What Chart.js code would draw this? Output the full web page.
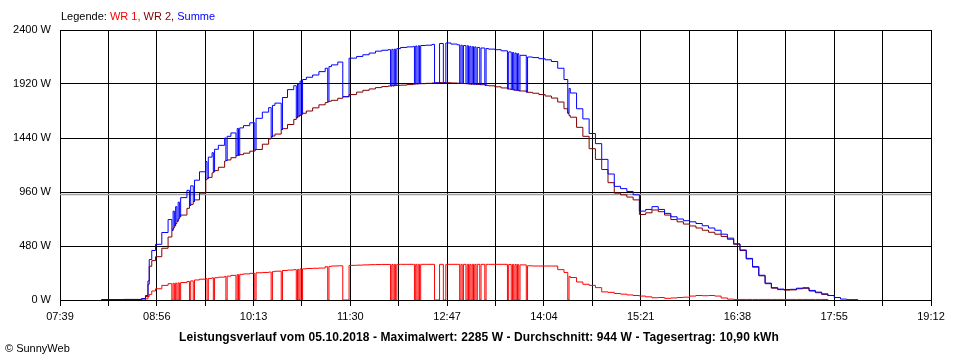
<!DOCTYPE html>
<html>
<head>
<meta charset="utf-8">
<script src="https://cdn.jsdelivr.net/npm/chart.js@4.4.1/dist/chart.umd.min.js"></script>
<style>
    body { margin: 0; background: #fff; }
    #wrap { position: relative; width: 960px; height: 360px; font-family: 'Liberation Sans', Arial, sans-serif; font-size: 11px; color: #000; }
    #chart { position: absolute; left: 0; top: 0; }
    #legende { position: absolute; left: 61px; top: 10px; white-space: nowrap; }
    #titel { position: absolute; left: 0; top: 330px; width: 958px; text-align: center; font-weight: bold; font-size: 12px; letter-spacing: 0.1px; white-space: nowrap; }
    #copy { position: absolute; left: 5px; top: 342px; }
</style>
</head>
<body>
<div id="wrap">
    <canvas id="chart" width="960" height="360"></canvas>
    <div id="legende">Legende: <span style="color:#ff0000">WR 1,</span> <span style="color:#800000">WR 2,</span> <span style="color:#0000ff">Summe</span></div>
    <div id="titel">Leistungsverlauf vom 05.10.2018 - Maximalwert: 2285 W - Durchschnitt: 944 W - Tagesertrag: 10,90 kWh</div>
    <div id="copy">&copy; SunnyWeb</div>
</div>
<script>
// Achsen
const xLabels = ['07:39', '08:56', '10:13', '11:30', '12:47', '14:04', '15:21', '16:38', '17:55', '19:12'];
const yTicks = [0, 480, 960, 1440, 1920, 2400];
const durchschnitt = 944;

// Messwerte (W)
const zeit = [
    '08:12','08:30','08:44','08:47','08:49','08:50','08:52','08:55','09:00','09:05',
    '09:08','09:09','09:10','09:11','09:12','09:13','09:14','09:15','09:20','09:22',
    '09:23','09:25','09:26','09:30','09:35','09:36','09:37','09:40','09:41','09:42',
    '09:45','09:50','09:51','09:52','09:55','09:59','10:00','10:01','10:02','10:05',
    '10:10','10:14','10:15','10:20','10:25','10:27','10:28','10:30','10:35','10:36',
    '10:40','10:45','10:47','10:48','10:49','10:50','10:51','10:52','10:55','11:00',
    '11:05','11:10','11:12','11:13','11:15','11:20','11:24','11:29','11:35','11:40',
    '11:45','11:50','11:55','12:00','12:02','12:03','12:04','12:05','12:06','12:07',
    '12:10','12:15','12:20','12:21','12:22','12:23','12:24','12:25','12:26','12:30',
    '12:35','12:37','12:41','12:44','12:46','12:50','12:55','12:57','12:58','12:59',
    '13:00','13:02','13:03','13:04','13:05','13:06','13:07','13:08','13:09','13:10',
    '13:11','13:13','13:14','13:17','13:18','13:20','13:25','13:30','13:35','13:36',
    '13:38','13:39','13:40','13:41','13:42','13:43','13:44','13:45','13:50','13:51',
    '13:55','14:00','14:05','14:10','14:15','14:20','14:23','14:24','14:25','14:30',
    '14:35','14:40','14:45','14:50','14:55','15:00','15:05','15:10','15:15','15:20',
    '15:25','15:30','15:35','15:40','15:45','15:50','15:55','16:00','16:05','16:10',
    '16:15','16:20','16:25','16:30','16:35','16:40','16:45','16:50','16:55','17:00',
    '17:05','17:10','17:15','17:20','17:25','17:30','17:35','17:40','17:45','17:50',
    '17:55','18:00','18:05','18:14'
];
const wr1 = [
    0,0,0,10,30,50,80,100,130,145,
    0,148,0,150,0,152,0,155,165,0,
    170,0,178,185,190,0,192,197,0,198,
    203,210,0,212,219,0,226,0,228,232,
    237,0,242,245,248,0,252,256,0,262,
    266,270,0,272,0,276,0,277,280,282,
    284,296,0,299,302,304,0,308,310,312,
    314,315,316,316,0,316,0,316,0,317,
    317,317,317,0,317,0,317,0,317,317,
    317,0,317,0,317,317,317,0,317,0,
    317,0,317,0,317,0,317,0,317,0,
    317,0,317,0,317,317,317,317,0,316,
    0,316,0,316,0,316,0,312,0,304,
    302,302,302,302,270,245,0,210,200,160,
    140,130,110,72,68,58,52,45,40,35,
    28,20,22,15,18,22,25,35,40,38,
    40,35,18,8,5,5,5,5,5,5,
    5,5,5,5,5,5,5,5,5,0,
    null,null,null,null
];
const wr2 = [
    4,5,12,30,140,300,350,385,460,560,
    620,640,660,680,700,720,740,755,815,840,
    850,875,890,950,1070,1080,1090,1130,1140,1150,
    1180,1235,1240,1245,1265,1283,1285,1288,1292,1305,
    1323,1335,1338,1385,1432,1450,1458,1475,1515,1523,
    1560,1605,1620,1628,1636,1645,1652,1660,1680,1708,
    1735,1755,1763,1767,1775,1793,1807,1826,1848,1864,
    1876,1888,1897,1902,1903,1904,1904,1906,1907,1908,
    1910,1915,1919,1920,1921,1921,1922,1923,1923,1926,
    1929,1930,1932,1932,1931,1929,1927,1926,1925,1925,
    1924,1923,1922,1921,1920,1919,1919,1918,1918,1917,
    1916,1915,1914,1910,1908,1904,1895,1885,1877,1875,
    1871,1869,1867,1865,1864,1862,1860,1858,1848,1846,
    1838,1826,1813,1795,1760,1700,1660,1640,1625,1535,
    1455,1345,1250,1160,1043,950,935,915,890,760,
    775,800,785,755,715,695,675,658,640,620,
    602,585,565,540,495,440,365,292,215,145,
    105,92,88,90,100,104,80,65,50,35,
    null,null,null,null
];
const summe = [
    4,5,12,40,170,360,440,495,600,715,
    620,790,660,830,700,870,740,910,975,840,
    1015,875,1065,1140,1230,1080,1270,1310,1140,1340,
    1375,1440,1240,1455,1485,1283,1525,1288,1530,1550,
    1575,1335,1615,1670,1710,1450,1730,1750,1515,1800,
    1870,1905,1620,1920,1636,1945,1652,1960,1980,2000,
    2030,2060,1763,2075,2090,2115,1807,2150,2165,2180,
    2195,2212,2220,2225,1903,2228,1904,2230,1907,2235,
    2245,2250,2255,1920,2258,1921,2260,1923,2262,2265,
    2272,1930,2280,1932,2285,2275,2268,1926,2265,1925,
    2262,1923,2260,1921,2255,1919,2252,1918,2250,1917,
    2245,1915,2240,1910,2235,2230,2225,2215,1877,2205,
    1871,2200,1867,2195,1864,2190,1860,2175,1848,2160,
    2155,2145,2135,2120,2060,1960,1660,1880,1840,1700,
    1610,1480,1390,1250,1120,1010,990,965,935,790,
    805,830,805,770,740,720,705,695,680,660,
    640,620,585,550,500,445,370,297,220,150,
    110,97,93,95,105,109,85,70,55,40,
    22,8,3,2
];

function toMin(s) {
    const p = s.split(':');
    return parseInt(p[0], 10) * 60 + parseInt(p[1], 10);
}

const zeitMin = zeit.map(toMin);
const labelMin = xLabels.map(toMin);

// Gitter: jede beschriftete Zeit plus eine Linie dazwischen
const gitter = [];
labelMin.forEach(function(v, i) {
    gitter.push(v);
    if (i < labelMin.length - 1) gitter.push((v + labelMin[i + 1]) / 2);
});

function punkte(werte) {
    return zeitMin.map(function(x, i) { return { x: x, y: werte[i] }; });
}

// graue Linie für den Durchschnitt
const mittelLinie = {
    id: 'mittelLinie',
    beforeDatasetsDraw(chart) {
        const ctx = chart.ctx;
        const area = chart.chartArea;
        const y = Math.round(chart.scales.y.getPixelForValue(durchschnitt)) + 0.5;
        ctx.save();
        ctx.strokeStyle = '#a0a0a0';
        ctx.lineWidth = 1.5;
        ctx.beginPath();
        ctx.moveTo(area.left, y);
        ctx.lineTo(area.right, y);
        ctx.stroke();
        ctx.restore();
    }
};

Chart.defaults.font.family = "'Liberation Sans', Arial, sans-serif";
Chart.defaults.font.size = 11;
Chart.defaults.color = '#000';

new Chart(document.getElementById('chart').getContext('2d'), {
    type: 'line',
    data: {
        datasets: [
            { label: 'Summe', data: punkte(summe), borderColor: '#0000ff', order: 0 },
            { label: 'WR 2', data: punkte(wr2), borderColor: '#800000', order: 1 },
            { label: 'WR 1', data: punkte(wr1), borderColor: '#ff0000', order: 2 }
        ]
    },
    options: {
        responsive: false,
        animation: false,
        devicePixelRatio: 1,
        layout: { padding: { left: 0, right: 29, top: 30, bottom: 30 } },
        datasets: {
            line: { stepped: true, borderWidth: 1, pointRadius: 0, fill: false, spanGaps: false }
        },
        plugins: {
            legend: { display: false },
            tooltip: { enabled: false }
        },
        scales: {
            x: {
                type: 'linear',
                min: labelMin[0],
                max: labelMin[labelMin.length - 1],
                afterBuildTicks: function(scale) {
                    scale.ticks = gitter.map(function(v) { return { value: v }; });
                },
                afterFit: function(scale) { scale.height = 30; },
                ticks: {
                    autoSkip: false,
                    maxRotation: 0,
                    minRotation: 0,
                    padding: 4,
                    callback: function(value, index) {
                        return index % 2 === 0 ? xLabels[index / 2] : '';
                    }
                },
                grid: { color: '#000', lineWidth: 1, drawTicks: true, tickLength: 6 },
                border: { color: '#000', width: 1 }
            },
            y: {
                min: 0,
                max: 2400,
                afterBuildTicks: function(scale) {
                    scale.ticks = yTicks.map(function(v) { return { value: v }; });
                },
                afterFit: function(scale) { scale.width = 60; },
                ticks: {
                    padding: 9,
                    callback: function(value) { return value + ' W'; }
                },
                grid: { color: '#000', lineWidth: 1, drawTicks: false },
                border: { color: '#000', width: 1 }
            }
        }
    },
    plugins: [mittelLinie]
});
</script>
</body>
</html>
